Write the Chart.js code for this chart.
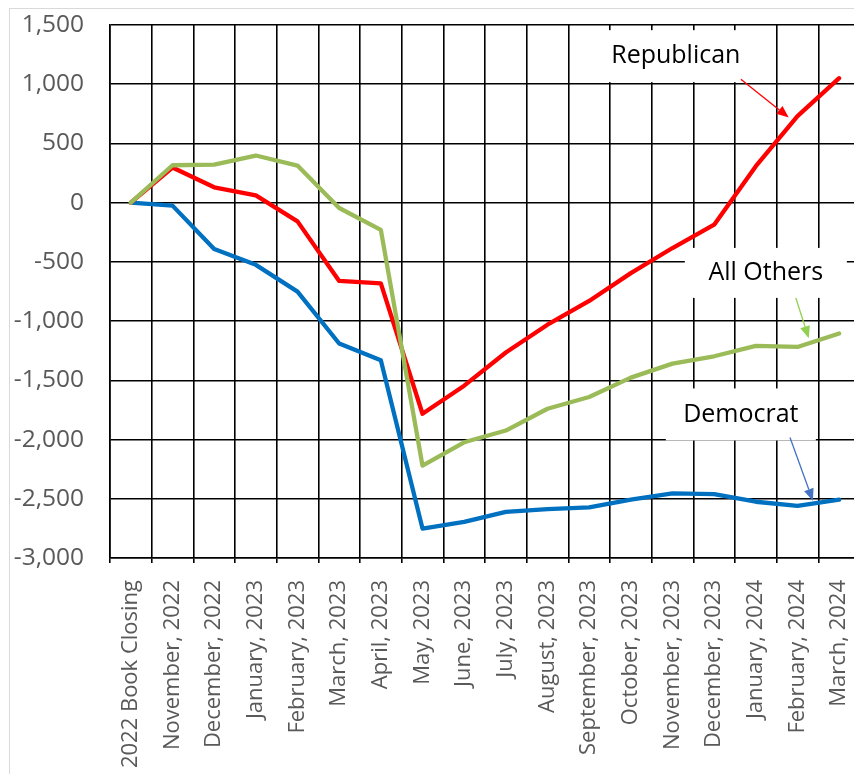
<!DOCTYPE html>
<html>
<head>
    <meta charset="UTF-8">
    <title>Cumulative change</title>
    <script src="https://cdn.jsdelivr.net/npm/chart.js@4.4.0/dist/chart.umd.min.js"></script>
    <style type="text/css">
        body {
            margin: 0px;
            padding: 0px;
            background: #fff;
            overflow: hidden;
        }
        #wrap {
            position: absolute;
            left: 9px;
            top: 8px;
            width: 860px;
            height: 765px;
            border: 1px solid #d9d9d9;
        }
    </style>
</head>
<body>
<div id="wrap">
    <canvas id="myChart"></canvas>
</div>
<script type="text/javascript">
    var labels = ['2022 Book Closing', 'November, 2022', 'December, 2022', 'January, 2023',
        'February, 2023', 'March, 2023', 'April, 2023', 'May, 2023', 'June, 2023', 'July, 2023',
        'August, 2023', 'September, 2023', 'October, 2023', 'November, 2023', 'December, 2023',
        'January, 2024', 'February, 2024', 'March, 2024'];

    var republican = [0, 297, 130, 62, -158, -661, -681, -1782, -1545, -1265, -1030, -830, -595, -383, -186, 308, 731, 1051];
    var allOthers = [0, 316, 322, 398, 313, -45, -229, -2220, -2023, -1924, -1740, -1641, -1477, -1359, -1297, -1209, -1218, -1105];
    var democrat = [0, -25, -392, -525, -751, -1189, -1331, -2751, -2695, -2610, -2587, -2573, -2508, -2455, -2460, -2525, -2559, -2508];

    var yMin = -3000;
    var yMax = 1500;
    var yStep = 500;

    // callout labels, placed in data units (x = category index, y = value)
    var callouts = [
        { text: 'Republican', x: 13.08, y: 1237, w: 160, h: 52, color: '#ff0000',
          from: [14.64, 1042], to: [15.79, 720] },
        { text: 'All Others', x: 15.24, y: -593, w: 162, h: 50, color: '#92d050',
          from: [15.96, -805], to: [16.27, -1144] },
        { text: 'Democrat', x: 14.64, y: -1788, w: 150, h: 52, color: '#4472c4',
          from: [15.82, -1983], to: [16.37, -2517] }
    ];

    var calloutPlugin = {
        id: 'callouts',
        afterDatasetsDraw: function(chart) {
            var ctx = chart.ctx;
            var xs = chart.scales.x, ys = chart.scales.y;
            ctx.save();
            callouts.forEach(function(c) {
                var cx = xs.getPixelForValue(c.x), cy = ys.getPixelForValue(c.y);
                ctx.fillStyle = '#fff';
                ctx.fillRect(cx - c.w / 2, cy - c.h / 2, c.w, c.h);
                ctx.fillStyle = '#000';
                ctx.font = '25px "Open Sans"';
                ctx.textAlign = 'center';
                ctx.textBaseline = 'middle';
                ctx.fillText(c.text, cx, cy);

                var x1 = xs.getPixelForValue(c.from[0]), y1 = ys.getPixelForValue(c.from[1]);
                var x2 = xs.getPixelForValue(c.to[0]), y2 = ys.getPixelForValue(c.to[1]);
                var a = Math.atan2(y2 - y1, x2 - x1);
                var len = 12, half = 5;
                ctx.strokeStyle = c.color;
                ctx.lineWidth = 1.3;
                ctx.beginPath();
                ctx.moveTo(x1, y1);
                ctx.lineTo(x2 - Math.cos(a) * len, y2 - Math.sin(a) * len);
                ctx.stroke();
                ctx.fillStyle = c.color;
                ctx.beginPath();
                ctx.moveTo(x2, y2);
                ctx.lineTo(x2 - Math.cos(a) * len - Math.sin(a) * half, y2 - Math.sin(a) * len + Math.cos(a) * half);
                ctx.lineTo(x2 - Math.cos(a) * len + Math.sin(a) * half, y2 - Math.sin(a) * len - Math.cos(a) * half);
                ctx.closePath();
                ctx.fill();
            });
            ctx.restore();
        }
    };

    var ctx = document.getElementById('myChart').getContext('2d');
    var chart = new Chart(ctx, {
        type: 'line',
        data: {
            labels: labels,
            datasets: [{
                label: 'All Others',
                data: allOthers,
                borderColor: '#9bbb59',
                borderWidth: 4.3
            }, {
                label: 'Republican',
                data: republican,
                borderColor: '#ff0000',
                borderWidth: 4.3
            }, {
                label: 'Democrat',
                data: democrat,
                borderColor: '#0070c0',
                borderWidth: 4.3
            }]
        },
        options: {
            responsive: true,
            maintainAspectRatio: false,
            animation: false,
            layout: {
                padding: { top: 16, right: 10, left: 0, bottom: 0 }
            },
            elements: {
                point: { radius: 0 },
                line: { tension: 0, borderJoinStyle: 'round', borderCapStyle: 'round' }
            },
            plugins: {
                legend: { display: false },
                tooltip: { enabled: false }
            },
            scales: {
                x: {
                    offset: true,
                    grid: {
                        offset: true,
                        color: '#000',
                        lineWidth: 1.6,
                        drawTicks: true,
                        tickLength: 5,
                        tickColor: '#000'
                    },
                    border: { color: '#000', width: 1.6 },
                    ticks: {
                        autoSkip: false,
                        minRotation: 90,
                        maxRotation: 90,
                        padding: 17,
                        color: '#595959',
                        font: { family: 'Open Sans', size: 22 }
                    },
                    afterFit: function(scale) {
                        scale.height = 216;
                        scale.paddingLeft = 0;
                        scale.paddingRight = 0;
                    }
                },
                y: {
                    min: yMin,
                    max: yMax,
                    grid: {
                        color: '#000',
                        lineWidth: 1.6,
                        drawTicks: false
                    },
                    border: { color: '#000', width: 1.6 },
                    ticks: {
                        stepSize: yStep,
                        padding: 26,
                        color: '#595959',
                        font: { family: 'Open Sans', size: 24.5 },
                        callback: function(v) { return v.toLocaleString('en-US'); }
                    },
                    afterFit: function(scale) {
                        scale.width = 100;
                        scale.paddingTop = 0;
                        scale.paddingBottom = 0;
                    }
                }
            }
        },
        plugins: [calloutPlugin]
    });
</script>
</body>
</html>
